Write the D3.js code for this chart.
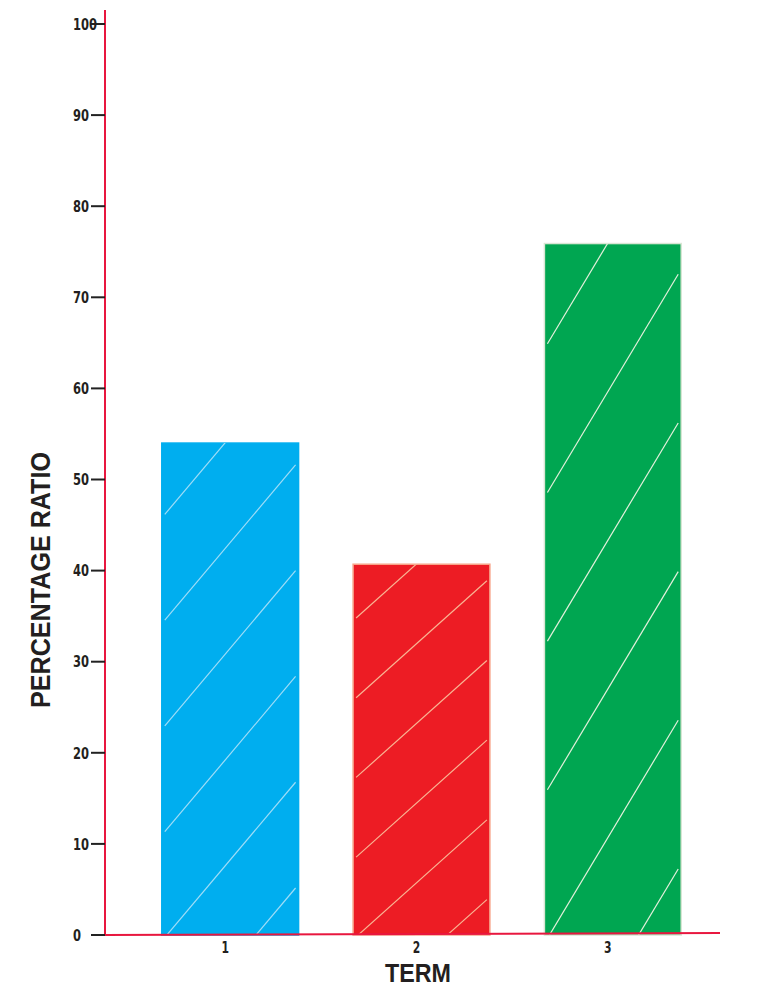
<!DOCTYPE html>
<html><head><meta charset="utf-8">
<script src="https://cdn.jsdelivr.net/npm/d3@7"></script>
<style>body{margin:0;background:#fff;}svg{display:block;}</style>
</head><body>
<svg id="c" width="773" height="1000"></svg>
<script>
const categories = ["1", "2", "3"];
const values = [54, 40.7, 75.9];
const yTicks = [0, 10, 20, 30, 40, 50, 60, 70, 80, 90, 100];
const barColors = ["#00AEEF", "#ED1C24", "#00A651"];
const barStrokes = ["#00AEEF", "#F7A58A", "#D9E6D4"];
const hatchColors = ["#9FDDF7", "#F9B593", "#E4F0DC"];

const svg = d3.select("#c");
const y = d3.scaleLinear().domain([0, 100]).range([935, 24]);
const x = d3.scaleBand().domain(categories).range([113, 730]).paddingInner(0.285).paddingOuter(0.255);

const defs = svg.append("defs");
const g = svg.append("g");

categories.forEach((c, i) => {
  const x0 = x(c), w = x.bandwidth();
  const y0 = y(values[i]), h = y(0) - y0;
  defs.append("clipPath").attr("id", "clip" + i)
    .append("rect").attr("x", x0).attr("y", y0).attr("width", w).attr("height", h);
  g.append("rect").attr("x", x0).attr("y", y0).attr("width", w).attr("height", h)
    .attr("fill", barColors[i]).attr("stroke", barStrokes[i]).attr("stroke-width", 1.5);
  const period = 0.215 * h;
  const drop = 0.33 * h;
  const hg = g.append("g").attr("clip-path", `url(#clip${i})`);
  for (let k = -2; k < 8; k++) {
    const yl = y0 + 0.145 * h + k * period;
    hg.append("line")
      .attr("x1", x0 + 3).attr("y1", yl)
      .attr("x2", x0 + w - 3).attr("y2", yl - drop * (w - 6) / w)
      .attr("stroke", hatchColors[i]).attr("stroke-width", 1.2);
  }
});

const axisColor = "#E8173F";
svg.append("line").attr("x1", 105).attr("x2", 105).attr("y1", 10).attr("y2", y(0))
  .attr("stroke", axisColor).attr("stroke-width", 2);
svg.append("line").attr("x1", 104).attr("x2", 720).attr("y1", y(0)).attr("y2", y(0) - 2)
  .attr("stroke", axisColor).attr("stroke-width", 2);

const font = "'DejaVu Sans Condensed','DejaVu Sans',sans-serif";
yTicks.forEach(t => {
  svg.append("line").attr("x1", 91).attr("x2", 105).attr("y1", y(t)).attr("y2", y(t))
    .attr("stroke", "#222").attr("stroke-width", 2);
  svg.append("text").attr("transform", `translate(73,${y(t)}) scale(0.8,1)`).attr("dy", "0.36em")
    .attr("font-family", font).attr("font-weight", "bold").attr("font-size", 16)
    .attr("fill", "#231F20").text(t);
});

categories.forEach(c => {
  svg.append("text")
    .attr("transform", `translate(${x(c) + x.bandwidth() / 2 - 5},953) scale(0.8,1)`)
    .attr("text-anchor", "middle")
    .attr("font-family", font).attr("font-weight", "bold").attr("font-size", 15)
    .attr("fill", "#231F20").text(c);
});

svg.append("text").attr("x", 418).attr("y", 982).attr("text-anchor", "middle")
  .attr("font-family", "'Liberation Sans',Arial,sans-serif").attr("font-weight", "bold")
  .attr("font-size", 26).attr("textLength", 66).attr("lengthAdjust", "spacingAndGlyphs")
  .attr("fill", "#231F20").text("TERM");
svg.append("text").attr("transform", "translate(50,580) rotate(-90)").attr("text-anchor", "middle")
  .attr("font-family", "'Liberation Sans',Arial,sans-serif").attr("font-weight", "bold")
  .attr("font-size", 27).attr("textLength", 256).attr("lengthAdjust", "spacingAndGlyphs")
  .attr("fill", "#231F20").text("PERCENTAGE RATIO");
</script>
</body></html>
